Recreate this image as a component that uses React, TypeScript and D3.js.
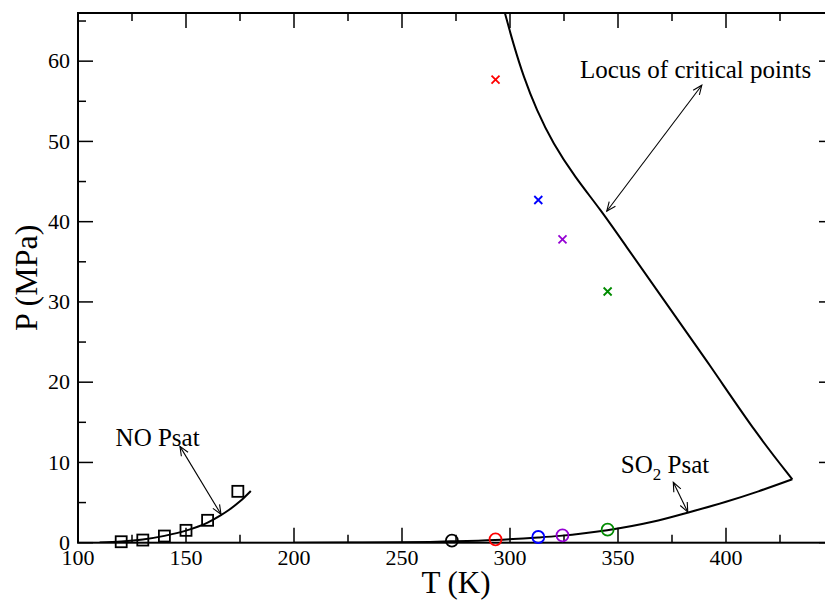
import { useEffect, useRef } from 'react'
import * as d3 from 'd3'

// values (T in K, P in MPa)
const noPsatT = [110, 120, 130, 140, 150, 160, 166, 170, 175, 180]
const noPsatP = [0.03, 0.15, 0.4, 0.85, 1.5, 2.5, 3.4, 4.1, 5.15, 6.45]

const noExpT = [120, 130, 140, 150, 160, 174]
const noExpP = [0.12, 0.33, 0.83, 1.54, 2.79, 6.4]

const so2PsatT = [200, 225, 250, 263, 273, 293, 313, 323, 345, 366, 383, 400, 415, 430.7]
const so2PsatP = [0.0, 0.02, 0.05, 0.1, 0.17, 0.35, 0.65, 0.85, 1.55, 2.6, 3.8, 5.1, 6.4, 7.9]

const locusT = [297.7, 301.5, 306.3, 312.3, 319.9, 330.0, 342.1, 352.8, 371.3, 393.1, 413.9, 430.7]
const locusP = [65.93, 62.19, 58.03, 53.89, 49.74, 45.58, 41.43, 37.29, 30.22, 21.92, 13.62, 7.9]

const mixT = [273.1, 293.3, 313.1, 324.3, 345.2]
const mixPsat = [0.25, 0.42, 0.71, 0.92, 1.62]
const mixPc = [null, 57.7, 42.7, 37.8, 31.3]
const mixColors = ['#000000', '#ff0000', '#0000ff', '#9400d3', '#008b00']

const xTicks = [100, 150, 200, 250, 300, 350, 400]
const yTicks = [0, 10, 20, 30, 40, 50, 60]

const width = 825
const height = 601
const margin = { left: 78, top: 13, right: 834, bottom: 542.7 }
const font = '"Liberation Serif", "Times New Roman", serif'

function App() {
  const ref = useRef<SVGSVGElement>(null)

  useEffect(() => {
    const svg = d3.select(ref.current)
    svg.selectAll('*').remove()

    const x = d3.scaleLinear().domain([100, 450]).range([margin.left, margin.right])
    const y = d3.scaleLinear().domain([0, 66]).range([margin.bottom, margin.top])

    svg
      .append('defs')
      .append('clipPath')
      .attr('id', 'plot-clip')
      .append('rect')
      .attr('x', margin.left)
      .attr('y', margin.top)
      .attr('width', margin.right - margin.left)
      .attr('height', margin.bottom - margin.top)

    const line = d3
      .line<[number, number]>()
      .x((d) => x(d[0]))
      .y((d) => y(d[1]))
      .curve(d3.curveMonotoneX)

    const plot = svg.append('g').attr('clip-path', 'url(#plot-clip)')

    const curves = [
      d3.zip(noPsatT, noPsatP),
      d3.zip(so2PsatT, so2PsatP),
    ]
    curves.forEach((c) => {
      plot
        .append('path')
        .datum(c as [number, number][])
        .attr('fill', 'none')
        .attr('stroke', '#000')
        .attr('stroke-width', 2)
        .attr('d', line)
    })
    // locus read by eye, so smooth it with a B-spline
    plot
      .append('path')
      .datum(d3.zip(locusT, locusP) as [number, number][])
      .attr('fill', 'none')
      .attr('stroke', '#000')
      .attr('stroke-width', 2)
      .attr('d', line.curve(d3.curveBasis))

    // frame
    svg
      .append('rect')
      .attr('x', margin.left)
      .attr('y', margin.top)
      .attr('width', margin.right - margin.left)
      .attr('height', margin.bottom - margin.top)
      .attr('fill', 'none')
      .attr('stroke', '#000')
      .attr('stroke-width', 2)

    // ticks on all four sides, pointing in
    const ticks = svg.append('g').attr('stroke', '#000').attr('stroke-width', 1.5)
    d3.range(100, 451, 25).forEach((t) => {
      const len = t % 50 === 0 ? 15 : 8
      ticks.append('line').attr('x1', x(t)).attr('x2', x(t)).attr('y1', margin.bottom).attr('y2', margin.bottom - len)
      ticks.append('line').attr('x1', x(t)).attr('x2', x(t)).attr('y1', margin.top).attr('y2', margin.top + len)
    })
    d3.range(0, 66, 5).forEach((p) => {
      const len = p % 10 === 0 ? 15 : 8
      ticks.append('line').attr('y1', y(p)).attr('y2', y(p)).attr('x1', margin.left).attr('x2', margin.left + len)
      ticks.append('line').attr('y1', y(p)).attr('y2', y(p)).attr('x1', margin.right).attr('x2', margin.right - len)
    })

    svg
      .append('g')
      .selectAll('text')
      .data(xTicks)
      .join('text')
      .attr('x', (d) => x(d))
      .attr('y', 565)
      .attr('text-anchor', 'middle')
      .attr('font-family', font)
      .attr('font-size', 22)
      .text((d) => d)
    svg
      .append('g')
      .selectAll('text')
      .data(yTicks)
      .join('text')
      .attr('x', 70)
      .attr('y', (d) => y(d))
      .attr('dy', '0.33em')
      .attr('text-anchor', 'end')
      .attr('font-family', font)
      .attr('font-size', 22)
      .text((d) => d)

    svg
      .append('text')
      .attr('x', (margin.left + margin.right) / 2)
      .attr('y', 593)
      .attr('text-anchor', 'middle')
      .attr('font-family', font)
      .attr('font-size', 31)
      .text('T (K)')
    svg
      .append('text')
      .attr('transform', `translate(37,${(margin.top + margin.bottom) / 2}) rotate(-90)`)
      .attr('text-anchor', 'middle')
      .attr('font-family', font)
      .attr('font-size', 32)
      .text('P (MPa)')

    // NO experimental points (squares)
    svg
      .append('g')
      .selectAll('rect')
      .data(d3.zip(noExpT, noExpP))
      .join('rect')
      .attr('x', (d) => x(d[0]) - 5.5)
      .attr('y', (d) => y(d[1]) - 5.5)
      .attr('width', 11)
      .attr('height', 11)
      .attr('fill', 'none')
      .attr('stroke', '#000')
      .attr('stroke-width', 1.8)

    // mixture bubble points (circles) and critical points (crosses)
    mixT.forEach((t, i) => {
      svg
        .append('circle')
        .attr('cx', x(t))
        .attr('cy', y(mixPsat[i]))
        .attr('r', 6)
        .attr('fill', 'none')
        .attr('stroke', mixColors[i])
        .attr('stroke-width', 1.8)
      const pc = mixPc[i]
      if (pc !== null) {
        const cx = x(t)
        const cy = y(pc)
        const s = 4
        svg
          .append('path')
          .attr('d', `M${cx - s},${cy - s}L${cx + s},${cy + s}M${cx - s},${cy + s}L${cx + s},${cy - s}`)
          .attr('stroke', mixColors[i])
          .attr('stroke-width', 1.8)
      }
    })

    // annotations with double-headed open arrows
    const arrow = (t1: number, p1: number, t2: number, p2: number) => {
      const x1 = x(t1), y1 = y(p1), x2 = x(t2), y2 = y(p2)
      const g = svg.append('g').attr('stroke', '#000').attr('stroke-width', 1.1).attr('fill', 'none')
      g.append('line').attr('x1', x1).attr('y1', y1).attr('x2', x2).attr('y2', y2)
      const head = (ax: number, ay: number, bx: number, by: number) => {
        const a = Math.atan2(ay - by, ax - bx)
        const L = 10, w = 0.4
        g.append('path').attr(
          'd',
          `M${ax - L * Math.cos(a - w)},${ay - L * Math.sin(a - w)}L${ax},${ay}L${ax - L * Math.cos(a + w)},${ay - L * Math.sin(a + w)}`
        )
      }
      head(x1, y1, x2, y2)
      head(x2, y2, x1, y1)
    }
    arrow(388.8, 57.0, 344.8, 41.3)
    arrow(147.2, 12.0, 166.2, 3.54)
    arrow(375.6, 7.52, 382.3, 3.82)

    const label = (t: number, p: number) =>
      svg
        .append('text')
        .attr('x', x(t))
        .attr('y', y(p))
        .attr('font-family', font)
        .attr('font-size', 25)
    label(332.4, 57.95).text('Locus of critical points')
    label(117.4, 12.1).text('NO Psat')
    const so2 = label(351.3, 8.64)
    so2.append('tspan').text('SO')
    so2.append('tspan').attr('font-size', 17).attr('dy', 7).text('2')
    so2.append('tspan').attr('dy', -7).text(' Psat')
  }, [])

  return (
    <div style={{ position: 'absolute', left: 0, top: 0 }}>
      <svg ref={ref} width={width} height={height} style={{ display: 'block', background: '#fff' }} />
    </div>
  )
}

export default App
